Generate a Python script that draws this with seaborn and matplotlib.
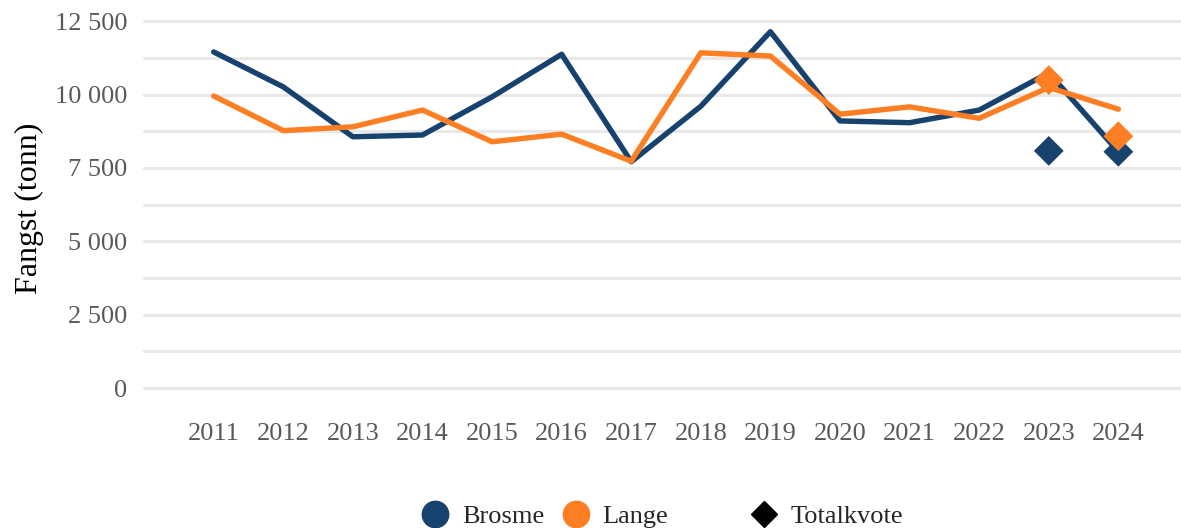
import pandas as pd
import matplotlib.pyplot as plt
import seaborn as sns
from matplotlib.lines import Line2D
from matplotlib.ticker import FuncFormatter, MultipleLocator

sns.set_theme(style="white")
plt.rcParams['font.family'] = ['Liberation Serif', 'DejaVu Serif']

# data
years = list(range(2011, 2025))
brosme = [11450, 10260, 8560, 8620, 9920, 11370, 7710, 9600, 12140, 9100, 9040, 9470, 10740, 8050]
lange = [9950, 8770, 8900, 9470, 8390, 8650, 7730, 11420, 11310, 9330, 9580, 9190, 10240, 9500]
kvote_years = [2023, 2024, 2023, 2024]
kvote_species = ["Brosme", "Brosme", "Lange", "Lange"]
kvote = [8080, 8050, 10490, 8580]

colors = {"Brosme": "#17426e", "Lange": "#fd7e23"}

df = pd.DataFrame({
    "year": years * 2,
    "fangst": brosme + lange,
    "art": ["Brosme"] * len(years) + ["Lange"] * len(years),
})
kv = pd.DataFrame({"year": kvote_years, "fangst": kvote, "art": kvote_species})

fig = plt.figure(figsize=(11.81, 5.28), dpi=100)
ax = fig.add_axes([0.122, 0.265, 0.878, 0.695])

sns.lineplot(data=df, x="year", y="fangst", hue="art", palette=colors,
             linewidth=3.9, ax=ax, legend=False)
sns.scatterplot(data=kv, x="year", y="fangst", hue="art", palette=colors,
                marker="D", s=230, linewidth=0, ax=ax, legend=False, zorder=5)

ax.set_xlim(2010, 2024.9)
ax.set_ylim(0, 12500)
ax.set_xticks(years)
ax.yaxis.set_major_locator(MultipleLocator(2500))
ax.yaxis.set_minor_locator(MultipleLocator(1250))
ax.yaxis.set_major_formatter(FuncFormatter(lambda v, p: f"{int(v):,}".replace(",", " ")))
ax.grid(axis="y", which="both", color="#e8e8e8", linewidth=2.2)
ax.set_axisbelow(True)
for t in ax.yaxis.get_major_ticks() + ax.yaxis.get_minor_ticks():
    t.gridline.set_clip_on(False)
for s in ax.spines.values():
    s.set_visible(False)
ax.tick_params(axis="both", which="both", length=0, labelsize=19, colors="#595959")
ax.tick_params(axis="x", pad=25)
ax.tick_params(axis="y", pad=12)
ax.set_xlabel("")
ax.set_ylabel("Fangst (tonn)", fontsize=23, color="black")
ax.yaxis.set_label_coords(-0.097, 0.49)

handles = [
    Line2D([], [], marker="o", linestyle="", markersize=19, color=colors["Brosme"], label="Brosme"),
    Line2D([], [], marker="o", linestyle="", markersize=19, color=colors["Lange"], label="Lange"),
    Line2D([], [], marker="", linestyle="", label=" "),
    Line2D([], [], marker="D", linestyle="", markersize=13, color="black", label="Totalkvote"),
]
leg = fig.legend(handles=handles, loc="lower center", bbox_to_anchor=(0.56, -0.045), ncol=4,
                 frameon=False, fontsize=19, handletextpad=0.4, columnspacing=0.6,
                 handlelength=1.2)

plt.savefig("out.png", dpi=100)
